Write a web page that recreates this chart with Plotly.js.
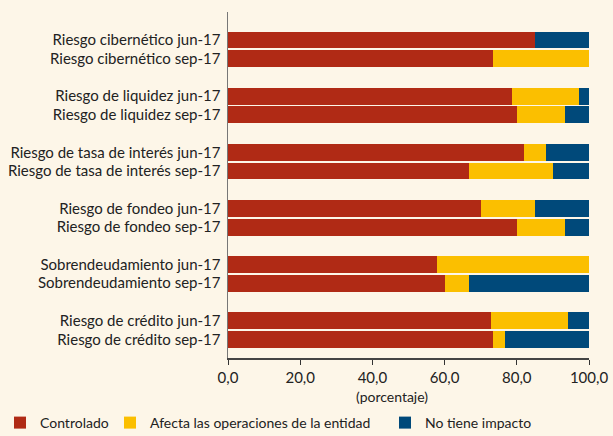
<!DOCTYPE html>
<html><head><meta charset="utf-8">
<script src="https://cdn.plot.ly/plotly-3.0.1.min.js"></script>
<style>body{margin:0;background:#fdf6e8;}#c{width:613px;height:436px;}</style>
</head><body><div id="c"></div>
<script>
const categories = [
  "Riesgo cibernético jun-17","Riesgo cibernético sep-17",
  "Riesgo de liquidez jun-17","Riesgo de liquidez sep-17",
  "Riesgo de tasa de interés jun-17","Riesgo de tasa de interés sep-17",
  "Riesgo de fondeo jun-17","Riesgo de fondeo sep-17",
  "Sobrendeudamiento jun-17","Sobrendeudamiento sep-17",
  "Riesgo de crédito jun-17","Riesgo de crédito sep-17"
];
const controlado = [85.0, 73.3, 78.6, 80.0, 82.0, 66.7, 70.0, 80.0, 57.9, 60.0, 72.8, 73.3];
const afecta     = [0.0, 26.7, 18.5, 13.3, 6.0, 23.3, 15.0, 13.3, 42.1, 6.7, 21.3, 3.3];
const noImpacto  = [15.0, 0.0, 2.9, 6.7, 12.0, 10.0, 15.0, 6.7, 0.0, 33.3, 5.9, 23.3];
const seriesNames = ["Controlado","Afecta las operaciones de la entidad","No tiene impacto"];
const xTicks = [0,20,40,60,80,100];
const xTickText = ["0,0","20,0","40,0","60,0","80,0","100,0"];
const xTitle = "(porcentaje)";

// row positions: pairs separated by a blank row
const pos = categories.map((c,i)=> Math.floor(i/2)*3 + (i%2));
const colors = ["#b02a15","#fbbf00","#00497a"];
const vals = [controlado, afecta, noImpacto];
const legends = ["legend","legend2","legend3"];
const traces = vals.map((v,k)=>({
  type:"bar", orientation:"h", x:v, y:pos, name:seriesNames[k],
  marker:{color:colors[k], line:{width:0}}, width:0.9,
  legend:legends[k], hoverinfo:"x+name"
}));
const fam = "Lato, 'Open Sans', sans-serif";
const font = {family:fam, size:15, color:"#222"};
const W = 613, H = 436;
const legStyle = (px)=>({x:px/W, y:(H-423)/H, xref:"container", yref:"container", xanchor:"left", yanchor:"middle",
  orientation:"h", bgcolor:"rgba(0,0,0,0)", borderwidth:0, font:{family:fam,size:14,color:"#222"},
  itemwidth:30, tracegroupgap:0, itemclick:false});
const layout = {
  width:W, height:H, barmode:"stack", bargap:0,
  paper_bgcolor:"#fdf6e8", plot_bgcolor:"#fdf6e8",
  margin:{l:228, r:24, t:12, b:78, autoexpand:false},
  font:font,
  showlegend:true,
  xaxis:{range:[0,100], tickvals:xTicks, ticktext:xTickText, ticks:"outside", ticklen:5,
    tickcolor:"#333", showline:true, linecolor:"#444", linewidth:1.5, showgrid:false, zeroline:false,
    tickfont:{size:15}},
  yaxis:{range:[17,-1.5], tickvals:pos, ticktext:categories, showline:true, linecolor:"#777",
    linewidth:1.5, showgrid:false, zeroline:false, ticks:"", tickfont:{size:15}, ticklabelstandoff:3},
  annotations:[{text:xTitle, x:45.5, xref:"x", y:-0.11, yref:"paper", xanchor:"center", yanchor:"middle",
    showarrow:false, font:{size:14}}],
  legend:legStyle(-8),
  legend2:legStyle(110),
  legend3:legStyle(385)
};
Plotly.newPlot("c", traces, layout, {displayModeBar:false, staticPlot:true});
</script></body></html>
